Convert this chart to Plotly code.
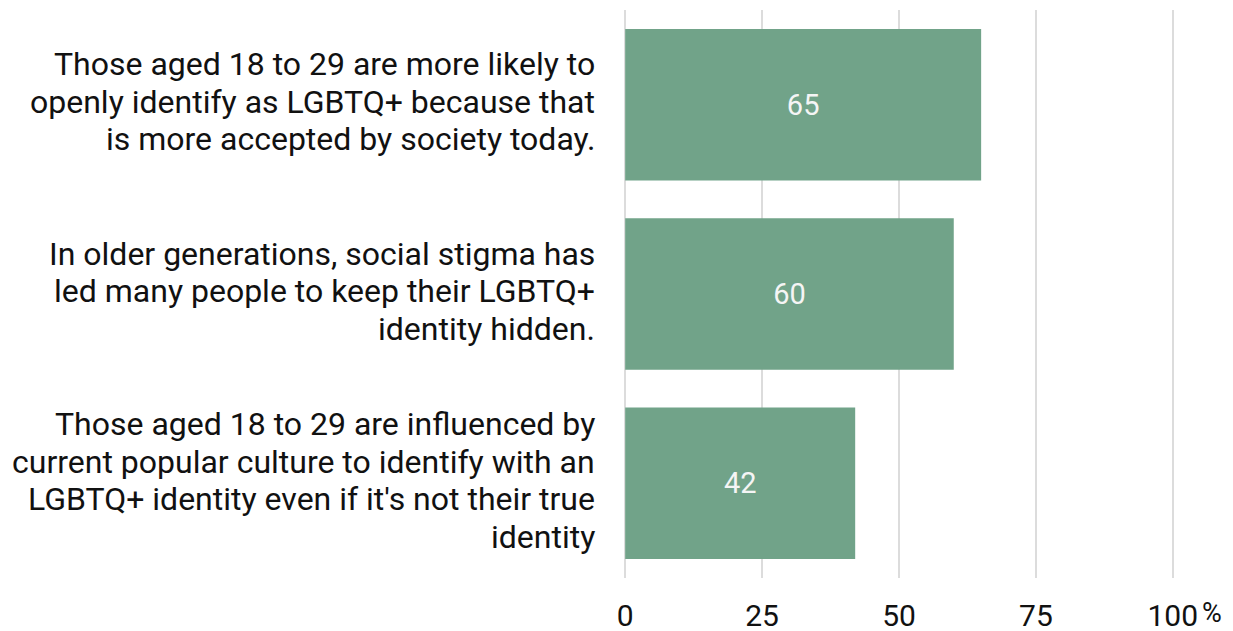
import plotly.graph_objects as go

categories = [
    "Those aged 18 to 29 are more likely to<br>openly identify as LGBTQ+ because that<br>is more accepted by society today.",
    "In older generations, social stigma has<br>led many people to keep their LGBTQ+<br>identity hidden.",
    "Those aged 18 to 29 are influenced by<br>current popular culture to identify with an<br>LGBTQ+ identity even if it's not their true<br>identity",
]
values = [65, 60, 42]
tick_vals = [0, 25, 50, 75, 100]
tick_text = ["0", "25", "50", "75", "100"]
unit_label = "%"

FONT = "Roboto, Arial, sans-serif"
TEXT_COLOR = "#111111"
LABEL_SIZE = 32
LINE_STEP = 37.5

fig = go.Figure(
    go.Bar(
        x=values,
        y=categories,
        orientation="h",
        marker=dict(color="#71a389", line=dict(width=0)),
        text=[str(v) for v in values],
        textposition="inside",
        insidetextanchor="middle",
        textfont=dict(family=FONT, size=29, color="#f5f5f5"),
        hoverinfo="skip",
    )
)

fig.update_layout(
    template="none",
    width=1225,
    height=623,
    margin=dict(l=614.8, r=57.8, t=2, b=53, pad=0),
    paper_bgcolor="white",
    plot_bgcolor="white",
    bargap=0.2,
    showlegend=False,
    font=dict(family=FONT, size=28, color=TEXT_COLOR),
)

fig.update_xaxes(
    range=[-0.4, 100.4],
    tickvals=tick_vals,
    ticktext=tick_text,
    showgrid=True,
    gridcolor="#dcdcdc",
    gridwidth=2,
    zeroline=False,
    showline=False,
    ticks="",
    ticklabelstandoff=17,
    automargin=False,
    tickfont=dict(family=FONT, size=30, color=TEXT_COLOR),
    fixedrange=True,
)

fig.update_yaxes(
    autorange="reversed",
    showgrid=False,
    zeroline=False,
    showline=False,
    showticklabels=False,
    ticks="",
    automargin=False,
    fixedrange=True,
)

# Category labels, one annotation per line for tighter line spacing
for cat in categories:
    lines = cat.split("<br>")
    n = len(lines)
    for i, line in enumerate(lines):
        fig.add_annotation(
            x=0, y=cat, xref="x", yref="y",
            text=line, showarrow=False,
            xanchor="right", yanchor="middle",
            xshift=-28,
            yshift=3 - (i - (n - 1) / 2) * LINE_STEP,
            font=dict(family=FONT, size=LABEL_SIZE, color=TEXT_COLOR),
        )

fig.add_annotation(
    x=tick_vals[-1], y=0, xref="x", yref="paper",
    text=unit_label, showarrow=False,
    xanchor="left", yanchor="middle",
    xshift=27, yshift=-35,
    font=dict(family=FONT, size=27, color=TEXT_COLOR),
)

fig.write_html("out.html")
